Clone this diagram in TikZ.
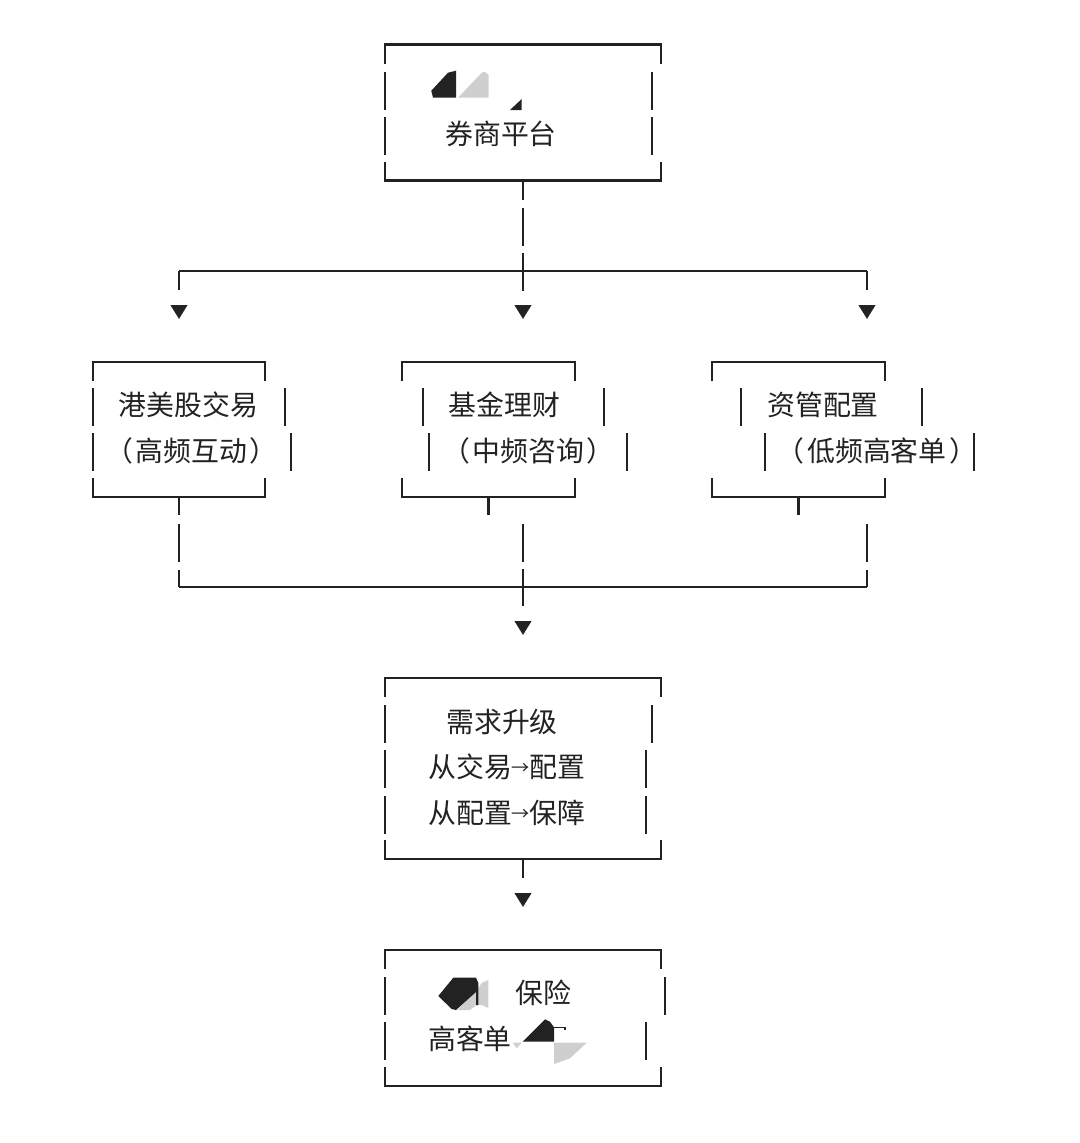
\documentclass[tikz,border=0pt]{standalone}
\usepackage{fontspec}
\setmainfont{Noto Sans CJK SC}
\usetikzlibrary{arrows.meta}
\definecolor{ink}{HTML}{222222}
\definecolor{patch}{HTML}{CFCFCF}
\tikzset{
  rule/.style={draw=ink,line width=1.8pt},
  tip/.style={-{Triangle[width=12.4pt,length=10.5pt]}},
  framebox/.style={inner sep=0pt,outer sep=0pt,minimum width=207pt,minimum height=102pt},
  rowbox/.style={inner sep=0pt,outer sep=0pt,minimum width=129.4pt,minimum height=101.25pt},
  tag/.style={inner sep=0pt,text=ink,font=\fontsize{20.9pt}{25pt}\selectfont}
}
\newcommand{\brackets}[1]{
  \draw[rule] ([yshift=-14.25pt]#1.north west) -- (#1.north west) -- (#1.north east) -- ([yshift=-14.25pt]#1.north east);
  \draw[rule] ([yshift=14.25pt]#1.south west) -- (#1.south west) -- (#1.south east) -- ([yshift=14.25pt]#1.south east);
}
\newcommand{\shortarrow}{\raisebox{2.7pt}{\scalebox{.65}{→}}}
\begin{document}
\begin{tikzpicture}[x=0.75pt,y=-0.75pt]
\useasboundingbox (0,0) rectangle (1080,1143);
% boxes
\node[framebox] (platform) at (523,112.5) {};
\node[rowbox] (stocks) at (179,429.5) {};
\node[rowbox] (funds) at (488.5,429.5) {};
\node[rowbox] (assets) at (798.5,429.5) {};
\node[framebox,minimum height=135.75pt] (upgrade) at (523,768.5) {};
\node[framebox] (insurance) at (523,1018) {};
\foreach \n in {platform,stocks,funds,assets,upgrade,insurance} {\brackets{\n}}
% side pieces that slipped out of line
\foreach \xa/\xb/\ya in {385/652/72,385/652/117,93/285/388,93/291/433,423/604/388,429/627/433,741/922/388,765/974/433,
  385/652/705,385/646/750,385/646/796,385/665/977,385/646/1022} {
  \draw[rule] (\xa,\ya) -- ++(0,37.5);
  \draw[rule] (\xb,\ya) -- ++(0,37.5);
}
% texts
\node[tag] (platformtext) at (501,134) {券商平台};
\node[tag] (stockstext) at (188.5,405) {港美股交易};
\node[tag] (stocksnote) at (191.5,451) {（\kern2pt高频互动\kern2pt）};
\node[tag] (fundstext) at (504.5,405) {基金理财};
\node[tag] (fundsnote) at (528.5,451) {（\kern2pt中频咨询\kern2pt）};
\node[tag] (assetstext) at (823,405) {资管配置};
\node[tag] (assetsnote) at (877,451) {（\kern2pt低频高客单\kern2pt）};
\node[tag] (upgradetext) at (502,722) {需求升级};
\node[tag] (upgradefirst) at (507,767) {从交易\shortarrow 配置};
\node[tag] (upgradesecond) at (507,813) {从配置\shortarrow 保障};
\node[tag] (insurancetext) at (543,993) {保险};
\node[tag] (insurancenote) at (470,1039) {高客单};
% upper connectors
\coordinate (topfork) at (523,271);
\coordinate (topleft) at (179,271);
\coordinate (topright) at (867,271);
\coordinate (tipleft) at (179,319);
\coordinate (tipmid) at (523,319);
\coordinate (tipright) at (867,319);
\draw[rule] (topright) -- (topleft);
\draw[rule,tip,dash pattern=on 14.25pt off 6pt on 28.5pt off 5.25pt on 28.5pt off 40pt] (platform.south) -- (tipmid);
\draw[rule,tip,dash pattern=on 14.25pt off 40pt] (topleft) -- (tipleft);
\draw[rule,tip,dash pattern=on 14.25pt off 40pt] (topright) -- (tipright);
% lower connectors
\coordinate (lowleft) at (179,587);
\coordinate (lowright) at (867,587);
\coordinate (fundsjoin) at (523,524);
\coordinate (assetsjoin) at (867,524);
\coordinate (tiplow) at (523,635);
\coordinate (tipupgrade) at (523,907);
\draw[rule] (lowright) -- (lowleft);
\draw[rule,dash pattern=on 13.5pt off 6.75pt on 28.5pt off 6pt on 30pt] (stocks.south) -- (lowleft);
\draw[rule] (funds.south) -- ++(0,18);
\draw[rule] (assets.south) -- ++(0,18);
\draw[rule,dash pattern=on 28.5pt off 5.25pt on 27.75pt off 40pt,tip] (fundsjoin) -- (tiplow);
\draw[rule,dash pattern=on 28.5pt off 6pt on 30pt] (assetsjoin) -- (lowright);
\draw[rule,tip,dash pattern=on 14.25pt off 40pt] (upgrade.south) -- (tipupgrade);
% torn patches over the logos
\fill[ink] (431.3,90.7) -- (448,72.7) -- (456,70.7) -- (456,97.7) -- (433,97.7) -- cycle;
\fill[patch] (458,97.7) -- (481.7,72.7) -- (485,71.7) -- (488.7,75) -- (488.7,97.7) -- cycle;
\fill[ink] (510,110) -- (521.7,99) -- (521.7,110) -- cycle;
\fill[patch] (457.3,1010) -- (476.7,990) -- (481.7,983) -- (488.3,980) -- (488.3,1008) -- (481.7,1005) -- (476.7,1005) -- (470,1010) -- cycle;
\fill[ink] (438.3,996) -- (453.3,977.7) -- (476,977.7) -- (478.3,983) -- (478.3,1005) -- (476,1005) -- (476,992) -- (456,1010) -- (451.7,1009) -- cycle;
\fill[ink] (522.7,1041.7) -- (545,1019.3) -- (550,1021.7) -- (554,1027.3) -- (554,1041.7) -- cycle;
\draw[ink,line width=.8pt] (554,1027.5) -- (565,1027.5) -- (565,1030);
\fill[patch] (554,1042.7) -- (586.7,1042.7) -- (570,1058.3) -- (554,1064) -- cycle;
\fill[patch] (512.7,1042.7) -- (521.7,1042.7) -- (516.7,1048.3) -- cycle;
\end{tikzpicture}
\end{document}
